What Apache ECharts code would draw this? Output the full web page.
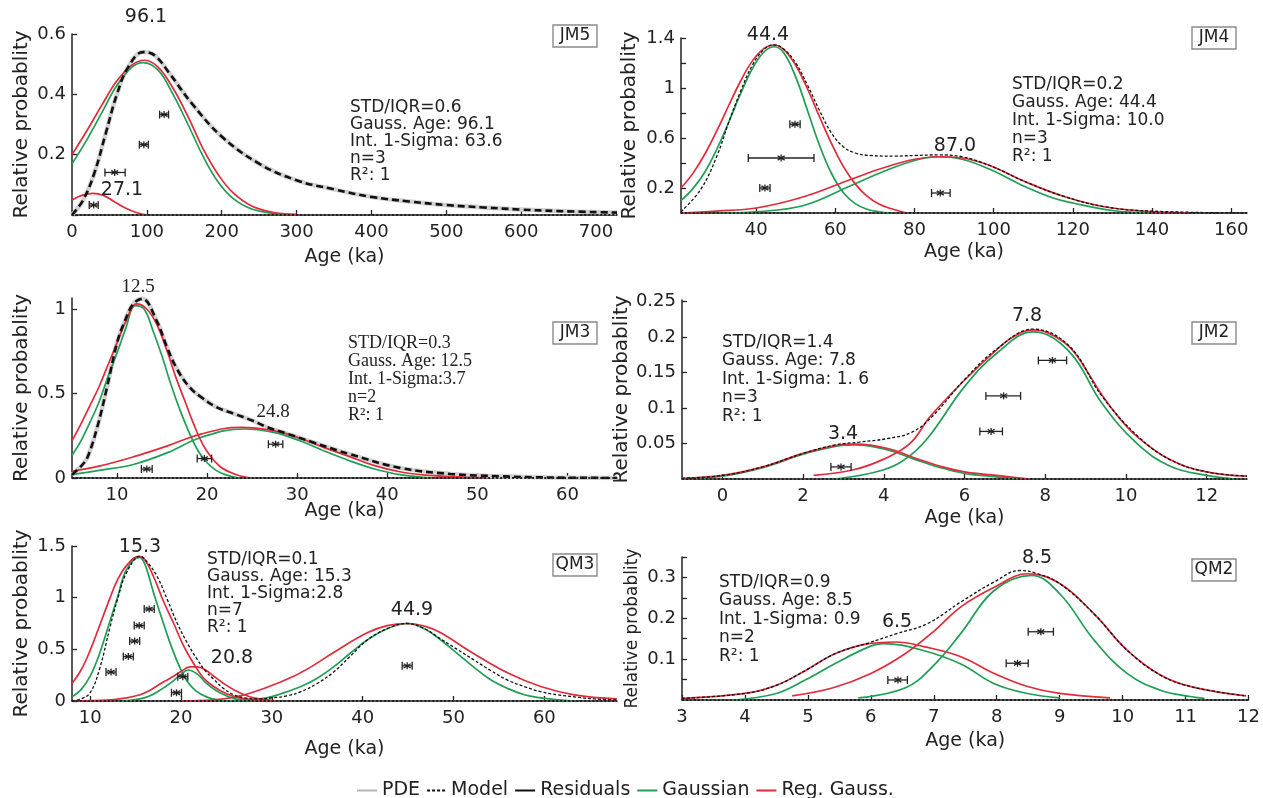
<!DOCTYPE html>
<html>
<head>
<meta charset="utf-8">
<title>Gaussian age models</title>
<script src="https://cdn.jsdelivr.net/npm/echarts@6/dist/echarts.min.js"></script>
<style>
html, body { margin: 0; padding: 0; background: #fff; }
#main { width: 1263px; height: 798px; }
</style>
</head>
<body>
<div id="main"></div>
<script>
// ---------- JM5 ----------
const jm5Gauss = [[0,0.17],[20,0.25],[40,0.34],[60,0.43],[80,0.49],[95,0.505],[115,0.48],[135,0.40],[155,0.30],[175,0.195],[195,0.11],[215,0.055],[240,0.02],[270,0.005],[290,0]]
const jm5Reg = [[0,0.2],[20,0.28],[40,0.365],[60,0.445],[80,0.497],[97,0.513],[115,0.49],[135,0.42],[155,0.326],[175,0.22],[195,0.135],[215,0.074],[240,0.03],[270,0.008],[300,0.002]]
const jm5RegB = [[0,0.05],[14,0.066],[28,0.072],[42,0.065],[56,0.045],[70,0.025],[85,0.009],[100,0]]
const jm5Model = [[0,0],[15,0.05],[30,0.14],[45,0.27],[60,0.4],[75,0.49],[95,0.54],[110,0.53],[130,0.47],[160,0.37],[200,0.26],[250,0.17],[300,0.115],[350,0.085],[400,0.06],[450,0.045],[500,0.033],[550,0.025],[600,0.018],[650,0.013],[728,0.008]]
const jm5Points = [[123,0.333,117,129],[96,0.233,90,102],[57,0.141,44,71],[29,0.033,23,35]]

// ---------- JM4 ----------
const jm4Gauss = [[21,0.1],[24,0.195],[27,0.326],[30,0.506],[33,0.722],[36,0.95],[39,1.153],[42,1.29],[44.6,1.33],[47,1.28],[50,1.087],[53,0.816],[56,0.541],[59,0.318],[62,0.164],[65,0.075],[68,0.03],[71,0.01],[74,0]]
const jm4Reg = [[21,0.2],[24,0.317],[27,0.47],[30,0.655],[33,0.856],[36,1.052],[39,1.215],[42,1.317],[44.4,1.344],[47,1.307],[50,1.18],[53,0.99],[56,0.77],[59,0.557],[62,0.373],[65,0.233],[68,0.135],[71,0.072],[74,0.036],[78,0]]
const jm4GaussB = [[30,0],[40,0.01],[52,0.06],[64,0.22],[72,0.33],[80,0.42],[86,0.45],[92,0.43],[99,0.35],[108,0.21],[115,0.12],[120,0.08],[130,0.02],[140,0]]
const jm4RegB = [[21,0],[30,0.015],[40,0.04],[52,0.13],[64,0.27],[72,0.36],[80,0.43],[86,0.45],[92,0.44],[99,0.38],[108,0.25],[118,0.13],[128,0.05],[138,0.015],[150,0]]
const jm4Model = [[21,0.01],[26,0.19],[30,0.45],[33,0.72],[36,0.97],[39,1.18],[42,1.31],[44.6,1.345],[47,1.31],[50,1.2],[53,1.02],[56,0.82],[59,0.64],[62,0.53],[65,0.48],[69,0.46],[75,0.455],[80,0.46],[86,0.465],[92,0.45],[99,0.38],[108,0.25],[118,0.13],[128,0.05],[140,0.015],[164,0]]
const jm4Points = [[49.8,0.71,48.5,51.1],[46.3,0.44,38,54.6],[42.2,0.2,40.9,43.5],[86.5,0.16,84.3,89]]

// ---------- JM3 ----------
const jm3Gauss = [[5,0.135],[6,0.22],[7,0.33],[8,0.45],[9,0.6],[10,0.74],[11,0.89],[12,1.02],[13,1.0],[14,0.87],[15,0.72],[16,0.55],[17,0.4],[18,0.27],[19,0.16],[20,0.09],[21,0.045],[22,0.02],[23.5,0]]
const jm3Reg = [[5,0.22],[6,0.32],[7,0.43],[8,0.54],[9,0.67],[10,0.8],[11,0.93],[12.2,1.03],[13.3,1.0],[14.4,0.91],[15.5,0.76],[16.5,0.6],[17.5,0.46],[18.5,0.32],[19.5,0.2],[20.5,0.12],[21.5,0.065],[22.5,0.035],[23.5,0.015],[24.8,0]]
const jm3GaussB = [[5,0.02],[8,0.045],[11.8,0.08],[15.6,0.15],[19.3,0.24],[24,0.29],[27.4,0.27],[30.3,0.22],[33,0.16],[35.9,0.1],[38.5,0.055],[41.4,0.02],[45,0]]
const jm3RegB = [[5,0.04],[8,0.07],[11.8,0.125],[15.6,0.19],[19.3,0.26],[23.7,0.3],[27.4,0.28],[30.3,0.235],[33,0.18],[35.9,0.125],[38.5,0.075],[41.4,0.037],[44,0.018],[47,0.008],[51,0]]
const jm3Model = [[5,0.02],[6,0.07],[6.7,0.12],[7.8,0.3],[8.9,0.54],[10,0.8],[10.8,0.92],[11.8,1.03],[12.8,1.06],[14.4,0.93],[15.5,0.78],[16.6,0.65],[18,0.54],[19.3,0.48],[21,0.42],[23,0.38],[25,0.34],[26.7,0.3],[29,0.26],[31.8,0.21],[35.9,0.14],[41.4,0.06],[47,0.024],[52.6,0.01],[58,0.003],[65.5,0]]
const jm3Points = [[13.3,0.053,12.7,13.9],[19.7,0.115,18.9,20.5],[27.6,0.2,26.8,28.4]]

// ---------- JM2 ----------
const jm2Gauss = [[2.8,0],[4,0.013],[4.65,0.033],[5.15,0.062],[6,0.13],[6.8,0.177],[7.7,0.207],[8.6,0.179],[9.4,0.107],[10.27,0.05],[11.1,0.018],[12,0.005],[12.7,0]]
const jm2Reg = [[2.26,0.005],[3.25,0.013],[4,0.028],[4.65,0.05],[5.15,0.088],[6,0.139],[6.8,0.182],[7.2,0.2],[7.7,0.21],[8.1,0.205],[8.6,0.186],[9,0.155],[9.43,0.116],[9.85,0.085],[10.27,0.06],[11.1,0.027],[12,0.01],[13,0.004]]
const jm2GaussB = [[-1,0],[0,0.004],[1,0.016],[2,0.035],[2.8,0.046],[3.3,0.048],[4.1,0.041],[4.75,0.028],[5.4,0.016],[6,0.008],[6.8,0.003],[7.4,0]]
const jm2RegB = [[-1,0.001],[0,0.005],[1,0.017],[2,0.036],[2.8,0.047],[3.3,0.049],[4.1,0.043],[4.75,0.03],[5.4,0.018],[6,0.01],[6.8,0.005],[7.6,0]]
const jm2Model = [[-1,0.001],[0,0.005],[1,0.017],[2,0.036],[2.8,0.048],[3.4,0.052],[4.1,0.057],[4.7,0.066],[5.2,0.088],[6,0.14],[6.8,0.183],[7.7,0.211],[8.6,0.187],[9.4,0.117],[10.3,0.06],[11.1,0.027],[12,0.01],[13,0.004]]
const jm2Points = [[2.94,0.017,2.69,3.19],[8.18,0.167,7.83,8.53],[6.97,0.117,6.53,7.39],[6.66,0.067,6.38,6.94]]

// ---------- QM3 ----------
const qm3Gauss = [[8,0.04],[9,0.11],[10,0.24],[11,0.45],[12.2,0.78],[13,1.0],[14,1.27],[15.4,1.39],[16,1.33],[17,1.04],[18,0.77],[18.8,0.56],[19.7,0.36],[20.6,0.2],[21.6,0.1],[22.8,0.04],[24,0.012],[25.7,0]]
const qm3Reg = [[8,0.17],[9,0.3],[10,0.49],[11,0.72],[12.2,1.0],[13,1.17],[14,1.31],[15.3,1.4],[16,1.37],[17,1.2],[18,0.98],[19.2,0.75],[20.3,0.53],[21.4,0.36],[22.5,0.22],[23.6,0.14],[25,0.07],[26.5,0.03],[28,0.01],[29.4,0]]
const qm3GaussB = [[13.5,0],[15.5,0.02],[16.6,0.05],[17.6,0.1],[18.8,0.17],[19.9,0.25],[20.8,0.3],[21.8,0.26],[22.8,0.17],[23.9,0.1],[25,0.05],[26,0.02],[27.2,0]]
const qm3RegB = [[8,0],[12.2,0.01],[14,0.03],[15.5,0.06],[16.5,0.1],[17.6,0.16],[18.8,0.22],[19.9,0.28],[21,0.33],[21.8,0.33],[22.7,0.3],[23.6,0.24],[24.7,0.17],[25.8,0.11],[27,0.06],[28,0.03],[29.5,0.01],[30.6,0]]
const qm3GaussC = [[25,0],[27,0.01],[29.4,0.03],[31,0.07],[33.2,0.14],[35,0.22],[36.8,0.33],[38.6,0.46],[40.5,0.59],[42.7,0.7],[44.9,0.75],[46.8,0.7],[48.6,0.59],[50.4,0.46],[52.2,0.33],[54,0.21],[56,0.12],[57.8,0.06],[59.6,0.03],[61.5,0.01],[63.3,0]]
const qm3RegC = [[20,0],[23.6,0.01],[26.5,0.05],[29.4,0.13],[32.4,0.24],[34.5,0.34],[36.8,0.47],[40.5,0.66],[42.7,0.73],[44.9,0.75],[47,0.72],[48.6,0.66],[52.2,0.46],[56,0.27],[59.6,0.14],[63.3,0.06],[68,0.02]]
const qm3Model = [[8,0],[9,0.02],[10,0.08],[11,0.3],[12.2,0.72],[13,0.98],[14,1.24],[15.5,1.4],[16.4,1.33],[17.4,1.2],[18.5,0.98],[19.6,0.75],[20.7,0.56],[21.8,0.4],[22.7,0.29],[23.6,0.21],[24.7,0.12],[25.8,0.06],[27,0.03],[28.7,0.02],[30,0.03],[31.7,0.05],[33.2,0.09],[35,0.17],[36.8,0.28],[38.6,0.43],[40.5,0.59],[42.7,0.7],[44.9,0.75],[46.8,0.7],[48.6,0.6],[50.4,0.5],[52.2,0.4],[54,0.3],[56,0.2],[57.8,0.14],[59.6,0.09],[61.5,0.06],[63.3,0.04],[65.5,0.02],[68,0.01]]
const qm3Points = [[16.5,0.89,15.95,17.05],[15.4,0.73,14.85,15.95],[14.9,0.58,14.35,15.45],[14.2,0.43,13.65,14.75],[12.3,0.28,11.75,12.85],[20.2,0.235,19.65,20.75],[19.5,0.08,18.95,20.05],[44.9,0.34,44.35,45.45]]

// ---------- QM2 ----------
const qm2Gauss = [[5.8,0.005],[6.55,0.03],[7,0.085],[7.43,0.163],[7.96,0.268],[8.55,0.305],[9,0.26],[9.55,0.146],[10.07,0.065],[10.6,0.024],[11.1,0.008],[11.3,0.004]]
const qm2Reg = [[4.75,0.01],[5.4,0.03],[6,0.065],[6.55,0.114],[7,0.168],[7.43,0.228],[7.96,0.276],[8.49,0.309],[9,0.285],[9.55,0.21],[10.07,0.122],[10.6,0.061],[11.1,0.032],[11.96,0.01]]
const qm2GaussB = [[3.8,0],[4.5,0.016],[4.97,0.05],[5.44,0.09],[5.97,0.13],[6.2,0.138],[6.86,0.12],[7.43,0.088],[7.96,0.04],[8.49,0.016],[9,0.005]]
const qm2RegB = [[3,0.004],[4,0.016],[4.5,0.036],[4.97,0.073],[5.44,0.114],[5.97,0.138],[6.39,0.142],[6.86,0.13],[7.43,0.106],[7.96,0.065],[8.49,0.033],[9,0.016],[9.8,0.005]]
const qm2Model = [[3,0.004],[4,0.016],[4.5,0.036],[4.97,0.073],[5.44,0.114],[5.97,0.14],[6.4,0.162],[6.9,0.187],[7.43,0.24],[7.96,0.289],[8.37,0.317],[8.65,0.309],[9,0.285],[9.55,0.21],[10.07,0.122],[10.6,0.061],[11.1,0.032],[11.96,0.01]]
const qm2Points = [[6.43,0.049,6.27,6.58],[8.7,0.167,8.5,8.9],[8.33,0.09,8.15,8.5]]

// ---------- axes ----------
const xRanges = [[0,728],[21,164],[5,65.5],[-1,13],[8,68],[3,12]]
const yRanges = [[0,0.6],[0,1.4],[0,1.065],[0,0.252],[0,1.5],[0,0.35]]
const xTicks = [
  [0,100,200,300,400,500,600,700],
  [40,60,80,100,120,140,160],
  [10,20,30,40,50,60],
  [0,2,4,6,8,10,12],
  [10,20,30,40,50,60],
  [3,4,5,6,7,8,9,10,11,12]
]
const yTicks = [
  [0,0.2,0.4,0.6],
  [0.2,0.4,0.6,0.8,1,1.2,1.4],
  [0,0.5,1],
  [0.05,0.1,0.15,0.2,0.25],
  [0,0.5,1,1.5],
  [0.05,0.1,0.15,0.2,0.25,0.3,0.35]
]
const yLabels = [
  [0.2,0.4,0.6],
  [0.2,0.6,1,1.4],
  [0,0.5,1],
  [0.05,0.1,0.15,0.2,0.25],
  [0,0.5,1,1.5],
  [0.1,0.2,0.3]
]

const sampleNames = ['JM5','JM4','JM3','JM2','QM3','QM2']
const statsText = [
  'STD/IQR=0.6\nGauss. Age: 96.1\nInt. 1-Sigma: 63.6\nn=3\nR²: 1',
  'STD/IQR=0.2\nGauss. Age: 44.4\nInt. 1-Sigma: 10.0\nn=3\nR²: 1',
  'STD/IQR=0.3\nGauss. Age: 12.5\nInt. 1-Sigma:3.7\nn=2\nR²: 1',
  'STD/IQR=1.4\nGauss. Age: 7.8\nInt. 1-Sigma: 1. 6\nn=3\nR²: 1',
  'STD/IQR=0.1\nGauss. Age: 15.3\nInt. 1-Sigma:2.8\nn=7\nR²: 1',
  'STD/IQR=0.9\nGauss. Age: 8.5\nInt. 1-Sigma: 0.9\nn=2\nR²: 1'
]
const peakLabels = [
  [['96.1',146,17],['27.1',122,190]],
  [['44.4',768,35],['87.0',955,146]],
  [['12.5',138,287],['24.8',273,412]],
  [['3.4',843,434],['7.8',1027,316]],
  [['15.3',140,547],['20.8',232,658],['44.9',412,610]],
  [['6.5',897,622],['8.5',1037,558]]
]

// ---------- layout ----------
const SANS = '"DejaVu Sans", sans-serif'
const SERIF = '"Liberation Serif", "Times New Roman", serif'
const GREEN = '#1f9e55'
const RED = '#e02b3a'
const grids = [
  {left: 72, top: 34, width: 545, height: 181},
  {left: 681, top: 38, width: 566, height: 175},
  {left: 72, top: 298, width: 545, height: 180},
  {left: 682, top: 300, width: 565, height: 179},
  {left: 72, top: 546, width: 545, height: 155},
  {left: 682, top: 557, width: 570, height: 143}
]
const statsPos = [[350,99,17],[1012,76,18],[348,334,18],[722,333,18.5],[207,551,17],[719,573,18.5]]
const boxPos = [[553,25],[1192,27],[553,322],[1192,322],[553,554],[1192,559]]
const xNameGap = [33, 30, 24, 30, 39, 32]
const yNameSize = [20, 20, 20, 20, 20, 17]
const thickModel = [true, false, true, false, false, false]

const curves = [
  {g: [jm5Gauss], r: [jm5Reg, jm5RegB], m: jm5Model, p: jm5Points},
  {g: [jm4Gauss, jm4GaussB], r: [jm4Reg, jm4RegB], m: jm4Model, p: jm4Points},
  {g: [jm3Gauss, jm3GaussB], r: [jm3Reg, jm3RegB], m: jm3Model, p: jm3Points},
  {g: [jm2Gauss, jm2GaussB], r: [jm2Reg, jm2RegB], m: jm2Model, p: jm2Points},
  {g: [qm3Gauss, qm3GaussB, qm3GaussC], r: [qm3Reg, qm3RegB, qm3RegC], m: qm3Model, p: qm3Points},
  {g: [qm2Gauss, qm2GaussB], r: [qm2Reg, qm2RegB], m: qm2Model, p: qm2Points}
]

function errBar(params, api) {
  const c = api.coord([api.value(0), api.value(1)])
  const lo = api.coord([api.value(2), api.value(1)])
  const hi = api.coord([api.value(3), api.value(1)])
  const s = {stroke: '#222', lineWidth: 1.3}
  const a = 3.5
  return {type: 'group', children: [
    {type: 'line', shape: {x1: lo[0], y1: c[1], x2: hi[0], y2: c[1]}, style: s},
    {type: 'line', shape: {x1: lo[0], y1: c[1] - 4, x2: lo[0], y2: c[1] + 4}, style: s},
    {type: 'line', shape: {x1: hi[0], y1: c[1] - 4, x2: hi[0], y2: c[1] + 4}, style: s},
    {type: 'line', shape: {x1: c[0], y1: c[1] - a, x2: c[0], y2: c[1] + a}, style: s},
    {type: 'line', shape: {x1: c[0] - a, y1: c[1] - a * 0.6, x2: c[0] + a, y2: c[1] + a * 0.6}, style: s},
    {type: 'line', shape: {x1: c[0] - a, y1: c[1] + a * 0.6, x2: c[0] + a, y2: c[1] - a * 0.6}, style: s}
  ]}
}

const xAxes = [], yAxes = [], series = [], graphics = []
grids.forEach((g, i) => {
  xAxes.push({
    type: 'value', gridIndex: i, min: xRanges[i][0], max: xRanges[i][1],
    name: 'Age (ka)', nameLocation: 'middle', nameGap: xNameGap[i], nameMoveOverlap: false,
    nameTextStyle: {fontFamily: SANS, fontSize: 19, color: '#222'},
    axisLine: {onZero: false, lineStyle: {color: '#222', width: 1.5}},
    axisTick: {inside: true, length: 5, customValues: xTicks[i], lineStyle: {color: '#222', width: 1.3}},
    axisLabel: {customValues: xTicks[i], fontFamily: SANS, fontSize: 18, color: '#222', margin: 8},
    splitLine: {show: false}
  })
  yAxes.push({
    type: 'value', gridIndex: i, min: yRanges[i][0], max: yRanges[i][1],
    name: 'Relative probablity', nameLocation: 'middle', nameGap: i % 2 ? 41 : 40,
    nameTextStyle: {fontFamily: SANS, fontSize: yNameSize[i], color: '#222'},
    axisLine: {show: true, onZero: false, lineStyle: {color: '#222', width: 1.5}},
    axisTick: {inside: true, length: 5, customValues: yTicks[i], lineStyle: {color: '#222', width: 1.3}},
    axisLabel: {customValues: yLabels[i], fontFamily: SANS, fontSize: 18, color: '#222', margin: 6},
    splitLine: {show: false}
  })
  const c = curves[i]
  const line = (name, data, color, width, type) => ({
    name, type: 'line', xAxisIndex: i, yAxisIndex: i, data, smooth: 0.4,
    symbol: 'none', silent: true, lineStyle: {color, width, type}, itemStyle: {color}
  })
  if (thickModel[i]) series.push(line('PDE', c.m, '#d2d2d2', 4.5, 'solid'))
  c.g.forEach(d => series.push(line('Gaussian', d, GREEN, 1.7, 'solid')))
  c.r.forEach(d => series.push(line('Reg. Gauss.', d, RED, 1.7, 'solid')))
  series.push(line('Model', c.m, '#111', thickModel[i] ? 2.6 : 1.3, thickModel[i] ? [7, 4] : [3, 2]))
  series.push(line('Residuals', [[xRanges[i][0], 0], [xRanges[i][1], 0]], '#222', 2.2, [2, 2]))
  series.push({
    type: 'custom', xAxisIndex: i, yAxisIndex: i, renderItem: errBar,
    encode: {x: [0, 2, 3], y: 1}, data: c.p, z: 5, silent: true
  })

  // stats block, sample box and peak labels
  const font = i === 2 ? SERIF : SANS
  graphics.push({
    type: 'text', x: statsPos[i][0], y: statsPos[i][1], z: 10,
    style: {text: statsText[i], fontFamily: font, fontSize: i === 2 ? 18 : 17, lineHeight: statsPos[i][2], fill: '#222'}
  })
  graphics.push({
    type: 'rect', shape: {x: boxPos[i][0], y: boxPos[i][1], width: 44, height: 22}, z: 10,
    style: {fill: '#fff', stroke: '#8a8a8a', lineWidth: 1.4}
  })
  graphics.push({
    type: 'text', x: boxPos[i][0] + 22, y: boxPos[i][1] + 11, z: 11,
    style: {text: sampleNames[i], fontFamily: SANS, fontSize: 17, fill: '#222', align: 'center', verticalAlign: 'middle'}
  })
  peakLabels[i].forEach(p => graphics.push({
    type: 'text', x: p[1], y: p[2], z: 10,
    style: {text: p[0], fontFamily: font, fontSize: 19, fill: '#222', align: 'center', verticalAlign: 'middle'}
  }))
})

const barIcon = 'path://M0,0h20v2h-20z'
const dashIcon = 'path://M0,0h3v2h-3zM5,0h3v2h-3zM10,0h3v2h-3zM15,0h3v2h-3z'
const chart = echarts.init(document.getElementById('main'))
const option = {
  backgroundColor: '#fff',
  animation: false,
  grid: grids,
  xAxis: xAxes,
  yAxis: yAxes,
  legend: {
    data: [
      {name: 'PDE', icon: barIcon, itemStyle: {color: '#b5b5b5'}},
      {name: 'Model', icon: dashIcon, itemStyle: {color: '#111'}},
      {name: 'Residuals', icon: barIcon, itemStyle: {color: '#111'}},
      {name: 'Gaussian', icon: barIcon, itemStyle: {color: GREEN}},
      {name: 'Reg. Gauss.', icon: barIcon, itemStyle: {color: RED}}
    ],
    left: 352, top: 776, itemWidth: 20, itemHeight: 2, itemGap: 7,
    textStyle: {fontFamily: SANS, fontSize: 19, color: '#222'},
    selectedMode: false
  },
  graphic: graphics,
  series: series
}
option && chart.setOption(option)
</script>
</body>
</html>
